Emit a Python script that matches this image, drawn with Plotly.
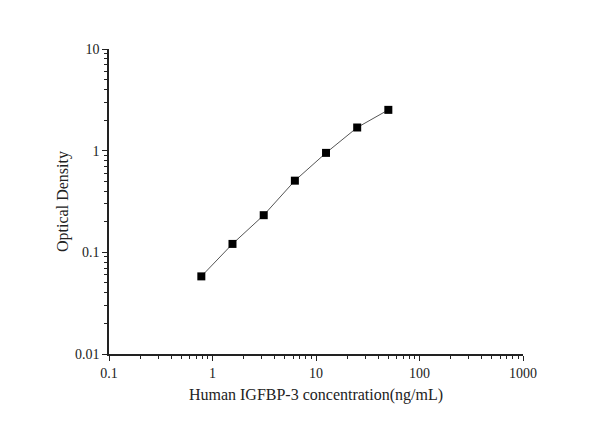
import plotly.graph_objects as go

# standard curve: concentration vs OD
concentration = [0.78, 1.56, 3.125, 6.25, 12.5, 25, 50]
optical_density = [0.058, 0.121, 0.232, 0.507, 0.951, 1.69, 2.52]

x_ticks = [0.1, 1, 10, 100, 1000]
x_tick_text = ["0.1", "1", "10", "100", "1000"]
y_ticks = [0.01, 0.1, 1, 10]
y_tick_text = ["0.01", "0.1", "1", "10"]


def minor_ticks(decades):
    # 2..9 within each decade
    return [d * k for d in decades for k in range(2, 10)]


serif = "Liberation Serif, Times New Roman, serif"

fig = go.Figure()
fig.add_trace(go.Scatter(
    x=concentration, y=optical_density,
    mode="lines+markers",
    line=dict(color="#555555", width=1),
    marker=dict(symbol="square", size=8, color="black"),
    showlegend=False,
))

axis_common = dict(
    type="log",
    showline=True, linecolor="#222222", linewidth=1.5,
    ticks="outside", ticklen=5, tickwidth=1.2, tickcolor="#222222",
    showgrid=False, zeroline=False,
    tickfont=dict(family=serif, size=14, color="#222222"),
)

fig.update_xaxes(
    range=[-1, 3], tickvals=x_ticks, ticktext=x_tick_text,
    minor=dict(ticks="outside", ticklen=3, tickwidth=1, tickcolor="#222222",
               showgrid=False, tickvals=minor_ticks(x_ticks[:-1])),
    title=dict(text="Human IGFBP-3 concentration(ng/mL)",
               font=dict(family=serif, size=16, color="#222222"), standoff=9),
    **axis_common,
)
fig.update_yaxes(
    range=[-2, 1], tickvals=y_ticks, ticktext=y_tick_text,
    minor=dict(ticks="outside", ticklen=3, tickwidth=1, tickcolor="#222222",
               showgrid=False, tickvals=minor_ticks(y_ticks[:-1])),
    title=dict(text="Optical Density",
               font=dict(family=serif, size=16, color="#222222"), standoff=2),
    **axis_common,
)

fig.update_layout(
    width=608, height=425,
    margin=dict(l=101, r=93, t=41, b=79),
    paper_bgcolor="white", plot_bgcolor="white",
)

fig.write_html("out.html")
